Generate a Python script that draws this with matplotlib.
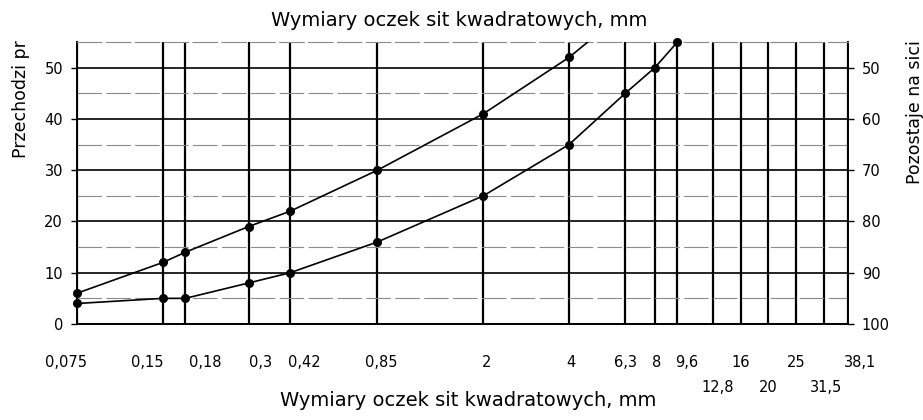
import matplotlib
matplotlib.use("Agg")
import matplotlib.pyplot as plt
import matplotlib.transforms as mtransforms
from matplotlib.ticker import FixedLocator, FixedFormatter
import numpy as np

# ---- data ----
sieves_row1 = [0.075, 0.15, 0.18, 0.3, 0.42, 0.85, 2, 4, 6.3, 8, 9.6, 16, 25, 38.1]
labels_row1 = ['0,075', '0,15', '0,18', '0,3', '0,42', '0,85', '2', '4', '6,3', '8', '9,6', '16', '25', '38,1']
sieves_row2 = [12.8, 20, 31.5]
labels_row2 = ['12,8', '20', '31,5']

upper_x = [0.075, 0.15, 0.18, 0.3, 0.42, 0.85, 2, 4, 6.3]
upper_y = [6, 12, 14, 19, 22, 30, 41, 52, 61]
lower_x = [0.075, 0.15, 0.18, 0.3, 0.42, 0.85, 2, 4, 6.3, 8, 9.6]
lower_y = [4, 5, 5, 8, 10, 16, 25, 35, 45, 50, 55]

left_ticks = [0, 10, 20, 30, 40, 50]
right_ticks = [50, 60, 70, 80, 90, 100]
minor_y = [5, 15, 25, 35, 45]

title_text = 'Wymiary oczek sit kwadratowych, mm'
left_label = 'Przechodzi pr'
right_label = 'Pozostaje na sici'

# per-label horizontal nudges (points) to mimic hand placement
row1_dx = [-8, -11, 14, 9, 10, 3, 2, 1, 0, 1, 7, 0, 0, 9]
row2_dx = [3, 0, 1]

plt.rcParams['font.family'] = ['DejaVu Sans']

W, H = 923, 420
fig = plt.figure(figsize=(W / 100, H / 100), dpi=100)
ax = fig.add_axes([77 / W, 1 - 324 / H, (848 - 77) / W, (324 - 42) / H])

ax.set_xscale('log')
ax.set_xlim(0.075, 38.1)
ymax = 55
ax.set_ylim(0, ymax)

# x ticks / grid
ax.xaxis.set_major_locator(FixedLocator(sieves_row1))
ax.xaxis.set_major_formatter(FixedFormatter(labels_row1))
ax.xaxis.set_minor_locator(FixedLocator(sieves_row2))
ax.xaxis.set_minor_formatter(FixedFormatter(labels_row2))
ax.tick_params(axis='x', which='major', length=0, pad=22, labelsize=10.5)
ax.tick_params(axis='x', which='minor', length=0, pad=40, labelsize=10.5)
ax.grid(True, axis='x', which='both', color='black', linewidth=1.6)

# y ticks / grid
ax.set_yticks(left_ticks)
ax.yaxis.set_minor_locator(FixedLocator(minor_y))
ax.tick_params(axis='y', which='major', length=4, width=1, pad=6, labelsize=10.5)
ax.tick_params(axis='y', which='minor', length=0)
ax.grid(True, axis='y', which='major', color='black', linewidth=1.2)
ax.grid(True, axis='y', which='minor', color='#8a8a8a', linewidth=0.8, dashes=(22, 4))

for s in ['left', 'right', 'bottom']:
    ax.spines[s].set_color('black')
    ax.spines[s].set_linewidth(1.4)
ax.spines['top'].set_color('#8a8a8a')
ax.spines['top'].set_linewidth(0.8)
ax.spines['top'].set_linestyle((0, (22, 4)))
ax.set_axisbelow(True)

# nudge tick labels
fig.canvas.draw()
for lab, dx in zip(ax.xaxis.get_majorticklabels(), row1_dx):
    lab.set_transform(lab.get_transform() + mtransforms.ScaledTranslation(dx / 72, 0, fig.dpi_scale_trans))
for lab, dx in zip(ax.xaxis.get_minorticklabels(), row2_dx):
    lab.set_transform(lab.get_transform() + mtransforms.ScaledTranslation(dx / 72, 0, fig.dpi_scale_trans))

# curves
for xs, ys in [(upper_x, upper_y), (lower_x, lower_y)]:
    ax.plot(xs, ys, color='black', linewidth=1.2, zorder=3)
    xs_a, ys_a = np.array(xs), np.array(ys)
    m = ys_a <= ymax
    ax.plot(xs_a[m], ys_a[m], linestyle='none', marker='o', markersize=5.5,
            color='black', clip_on=False, zorder=4)

# right axis
ax2 = ax.twinx()
ax2.set_ylim(100, 100 - ymax)
ax2.set_yticks(right_ticks)
ax2.tick_params(axis='y', length=4, width=1, pad=6, labelsize=10.5)
for s in ax2.spines.values():
    s.set_visible(False)

# texts
fig.text(459 / W, 1 - 20 / H, title_text, ha='center', va='center', fontsize=14)
fig.text(468 / W, 1 - 400 / H, title_text, ha='center', va='center', fontsize=14)
fig.text(21 / W, 1 - 40 / H, left_label, rotation=90, ha='center', va='top', fontsize=12.5)
fig.text(915 / W, 1 - 40 / H, right_label, rotation=90, ha='center', va='top', fontsize=12.5)

fig.savefig('out.png', dpi=100)
